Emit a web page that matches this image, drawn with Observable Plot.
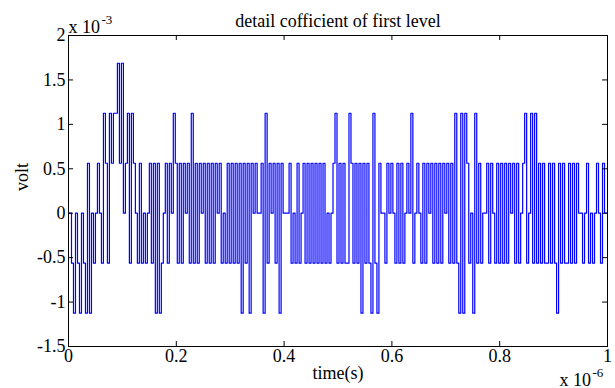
<!DOCTYPE html>
<html>
<head>
<meta charset="utf-8">
<script src="https://cdn.jsdelivr.net/npm/d3@7"></script>
<script src="https://cdn.jsdelivr.net/npm/@observablehq/plot@0.6"></script>
<style>
  html, body { margin: 0; padding: 0; background: white; }
</style>
</head>
<body>
<div id="chart"></div>
<script>
// Quantized detail-coefficient levels (in steps of 0.5625e-3 V), one sample every 1/270 µs
const levels = [
  0,0,-1,-2,0,-1,-2,0,-1,-2,
  1,-2,0,-1,0,1,0,-1,2,1,
  -1,2,1,2,2,3,1,3,0,1,
  2,-1,2,1,0,-1,1,-1,0,-1,
  0,1,-1,1,-2,1,-2,-1,0,1,
  -1,1,0,2,1,-1,1,-1,1,0,
  1,-1,2,-1,1,-1,1,0,1,-1,
  1,-1,1,-1,1,0,1,-1,0,-1,
  1,-1,1,-1,1,-1,1,-2,1,-1,
  1,-2,1,0,1,0,0,1,-2,2,
  -1,1,0,1,-1,1,-2,1,0,0,
  0,1,-1,0,-1,1,-1,0,1,-1,
  1,-1,1,-1,1,-1,1,-1,1,-1,
  0,-1,0,1,2,-1,1,-1,1,-1,
  -1,2,1,-1,1,-1,1,-2,1,-1,
  1,-1,-2,2,-1,-2,1,0,0,-1,
  1,0,1,0,-1,1,-1,1,-1,0,
  1,0,2,-1,0,1,0,-1,1,-1,
  1,0,1,-1,1,-1,1,-1,1,0,
  1,-1,1,-1,2,-1,-2,2,-2,2,
  1,-1,0,-2,2,-1,1,-1,0,0,
  1,-1,1,0,-1,1,-1,1,-1,1,
  -1,1,0,1,-1,1,-1,0,1,2,
  -1,0,2,-1,2,-1,1,-1,1,-1,
  -1,1,-1,1,-1,-2,1,-1,1,-1,
  -1,1,-1,1,-1,1,0,0,-1,0,
  1,-1,0,-1,0,1,0,-1,1,0,
  0
];
const quantum = 0.5625;       // ×1e-3 V per level
const sampleCount = 270;      // samples per 1e-6 s

const xTicks = [0, 0.2, 0.4, 0.6, 0.8, 1];
const xTickLabels = ["0", "0.2", "0.4", "0.6", "0.8", "1"];
const yTicks = [-1.5, -1, -0.5, 0, 0.5, 1, 1.5, 2];
const yTickLabels = ["-1.5", "-1", "-0.5", "0", "0.5", "1", "1.5", "2"];

const titleText = "detail cofficient of first level";
const xLabel = "time(s)";
const yLabel = "volt";

const data = levels.map((v, i) => ({t: i / sampleCount, v: v * quantum}));
const xFmt = new Map(xTicks.map((d, i) => [d, xTickLabels[i]]));
const yFmt = new Map(yTicks.map((d, i) => [d, yTickLabels[i]]));

const chart = Plot.plot({
  width: 615,
  height: 388,
  marginLeft: 68,
  marginRight: 8,
  marginTop: 35,
  marginBottom: 42,
  style: {fontFamily: "'Liberation Serif', 'Times New Roman', serif", fontSize: "18px", background: "white", color: "black"},
  x: {domain: [0, 1]},
  y: {domain: [-1.5, 2]},
  marks: [
    Plot.line(data, {x: "t", y: "v", stroke: "#0000ff", strokeWidth: 1.2, curve: "step"}),
    Plot.frame({stroke: "black", strokeWidth: 1}),
    Plot.tickX(xTicks, {insetTop: 306, stroke: "black"}),
    Plot.tickX(xTicks, {insetBottom: 306, stroke: "black"}),
    Plot.tickY(yTicks, {insetRight: 534, stroke: "black"}),
    Plot.tickY(yTicks, {insetLeft: 534, stroke: "black"}),
    Plot.axisX(xTicks, {tickSize: 0, tickPadding: 3, tickFormat: d => xFmt.get(d), label: null, fontSize: 18}),
    Plot.axisY(yTicks, {tickSize: 0, tickPadding: 3, tickFormat: d => yFmt.get(d), label: null, fontSize: 18}),
    Plot.text([titleText], {frameAnchor: "top", dy: -21, fontSize: 18}),
    Plot.text([xLabel], {frameAnchor: "bottom", dy: 32, fontSize: 18}),
    Plot.text([yLabel], {frameAnchor: "left", dx: -46, rotate: -90, fontSize: 18}),
    Plot.text(["x 10"], {frameAnchor: "top-left", dx: 0, dy: -3, textAnchor: "start", lineAnchor: "bottom", fontSize: 18}),
    Plot.text(["-3"], {frameAnchor: "top-left", dx: 33, dy: -12, textAnchor: "start", lineAnchor: "bottom", fontSize: 13}),
    Plot.text(["x 10"], {frameAnchor: "bottom-right", dx: -48, dy: 39, textAnchor: "start", lineAnchor: "bottom", fontSize: 18}),
    Plot.text(["-6"], {frameAnchor: "bottom-right", dx: -15, dy: 30, textAnchor: "start", lineAnchor: "bottom", fontSize: 13})
  ]
});
document.getElementById("chart").appendChild(chart);
</script>
</body>
</html>
